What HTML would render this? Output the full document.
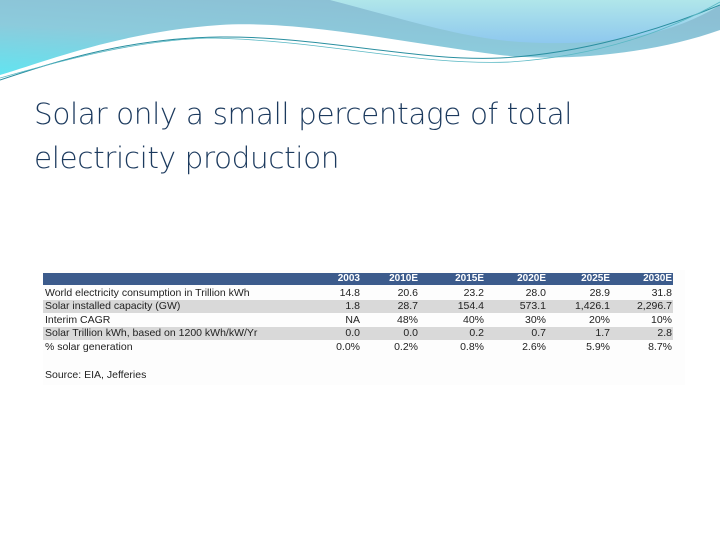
<!DOCTYPE html>
<html><head><meta charset="utf-8"><style>
body{margin:0;width:720px;height:540px;overflow:hidden;background:#fff;font-family:"Liberation Sans",sans-serif;position:relative}
#title{position:absolute;left:34px;top:92px;font-size:29.5px;line-height:44px;color:#1c3a5e;font-family:"DejaVu Sans","Liberation Sans",sans-serif;font-weight:300;letter-spacing:-0.4px}
#tbl{position:absolute;left:43px;top:270px;width:642px;height:115px;background:#fdfdfd}
.cell{position:absolute;font-size:10.5px;line-height:12px;color:#222;white-space:nowrap}
</style></head><body>
<svg width="720" height="90" style="position:absolute;left:0;top:0">
<defs><linearGradient id="g1" x1="0" y1="1" x2="0.6" y2="0"><stop offset="0" stop-color="#62e4f0"/><stop offset="0.5" stop-color="#8ccbdc"/><stop offset="1" stop-color="#8cbfd4"/></linearGradient>
<linearGradient id="g2" x1="0" y1="0" x2="0" y2="1"><stop offset="0" stop-color="#b0e6ea"/><stop offset="1" stop-color="#8ec8ee"/></linearGradient></defs>
<path d="M0,0 H720 V30 C650,55 560,62 500,55 C400,42 300,20 220,25 C120,32 50,60 0,75 Z" fill="url(#g1)"/>
<path d="M320,0 H720 V5 C680,30 620,48 520,42 C460,38 400,18 330,0 Z" fill="url(#g2)"/>
<path d="M0,80 C60,60 130,38 220,37 C320,36 420,62 500,58 C580,54 660,30 720,5" fill="none" stroke="#2a8fa0" stroke-width="1"/>
<path d="M0,78 C70,58 140,40 210,38 C320,40 420,66 510,62 C600,56 670,30 720,2" fill="none" stroke="#5ab8c4" stroke-width="0.8"/>
</svg>
<div id="title">Solar only a small percentage of total<br>electricity production</div>
<div id="tbl"></div>
<script>
const years=["2003","2010E","2015E","2020E","2025E","2030E"];
const labels=["World electricity consumption in Trillion kWh","Solar installed capacity (GW)","Interim CAGR","Solar Trillion kWh, based on 1200 kWh/kW/Yr","% solar generation"];
const consumption=["14.8","20.6","23.2","28.0","28.9","31.8"];
const capacity=["1.8","28.7","154.4","573.1","1,426.1","2,296.7"];
const cagr=["NA","48%","40%","30%","20%","10%"];
const solarKwh=["0.0","0.0","0.2","0.7","1.7","2.8"];
const pct=["0.0%","0.2%","0.8%","2.6%","5.9%","8.7%"];
const rows=[consumption,capacity,cagr,solarKwh,pct];
const colRight=[317,375,441,503,567,629];
const t=document.getElementById('tbl');
function add(txt,x,y,right,extra){const d=document.createElement('div');d.className='cell';d.textContent=txt;d.style.top=y+'px';if(right){d.style.right=(642-x)+'px';}else d.style.left=x+'px';Object.assign(d.style,extra||{});t.appendChild(d);return d;}
const hb=document.createElement('div');


hb.style.cssText='position:absolute;left:0;top:3px;width:630px;height:12px;background:#3c5b8c';t.appendChild(hb);
years.forEach((y,i)=>{const d=add(y,colRight[i],3,true,{color:'#fff',fontWeight:'bold',fontSize:'10px',lineHeight:'12px'});

});
rows.forEach((r,ri)=>{const top=16+ri*13.6;
if(ri%2===1){const b=document.createElement('div');


b.style.cssText='position:absolute;left:0;width:630px;height:13px;background:#d9d9d9;top:'+(top)+'px';t.appendChild(b);}
const l=add(labels[ri],2,top+0.5,false);


r.forEach((v,i)=>{const c=add(v,colRight[i],top+0.5,true);

});});
const s=add('Source: EIA, Jefferies',2,99,false);


</script>
</body></html>
